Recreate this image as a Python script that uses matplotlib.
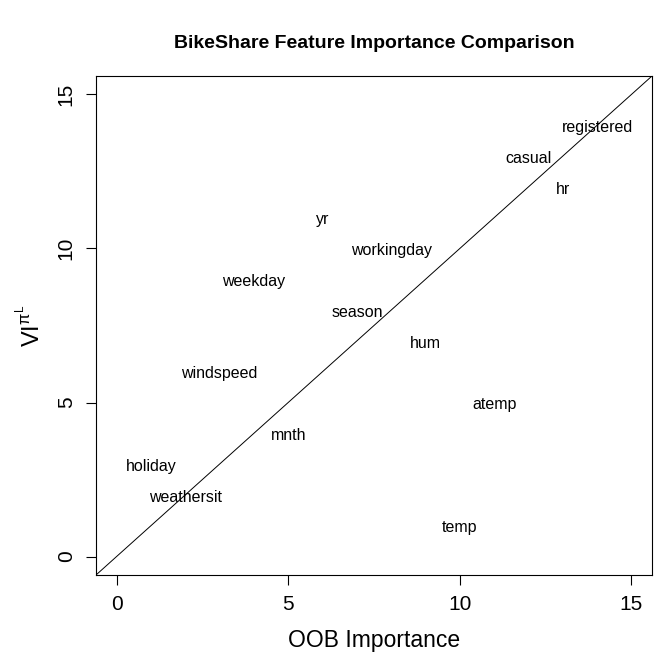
import matplotlib
matplotlib.use("Agg")
import matplotlib.pyplot as plt

plt.rcParams['font.family'] = ['Liberation Sans', 'DejaVu Sans']
plt.rcParams['mathtext.fontset'] = 'custom'
plt.rcParams['mathtext.rm'] = 'Liberation Sans'
plt.rcParams['mathtext.it'] = 'Liberation Sans:italic'

# feature names with their OOB importance (x) and VI^{pi^L} (y)
features = ['registered', 'casual', 'hr', 'yr', 'workingday', 'weekday', 'season',
            'hum', 'windspeed', 'atemp', 'mnth', 'holiday', 'weathersit', 'temp']
oob_importance = [14, 12, 13, 6, 8, 4, 7, 9, 3, 11, 5, 1, 2, 10]
vi_pil = [14, 13, 12, 11, 10, 9, 8, 7, 6, 5, 4, 3, 2, 1]

ticks = [0, 5, 10, 15]

fig = plt.figure(figsize=(6.72, 6.72), dpi=100)
ax = fig.add_axes([96 / 672, 1 - 575 / 672, (652 - 96) / 672, (575 - 76) / 672])

for name, x, y in zip(features, oob_importance, vi_pil):
    ax.annotate(name, (x, y), xytext=(0, -1.6), textcoords='offset points',
                ha='center', va='center', fontsize=11.5)

# reference line y = x
ax.plot([-1, 16], [-1, 16], color='black', linewidth=0.7)

ax.set_xlim(-0.6, 15.6)
ax.set_ylim(-0.6, 15.6)
ax.set_xticks(ticks)
ax.set_yticks(ticks)
ax.tick_params(direction='out', length=7.5, width=0.8, labelsize=15, pad=7)
for lab in ax.get_yticklabels():
    lab.set_rotation(90)
    lab.set_va('center')
for s in ax.spines.values():
    s.set_linewidth(0.8)

ax.set_xlabel('OOB Importance', fontsize=16.5, labelpad=11)
ax.set_ylabel(r'$\mathrm{VI}^{\mathrm{\pi}^{\mathrm{L}}}$', fontsize=17, labelpad=8)
ax.set_title('BikeShare Feature Importance Comparison', fontsize=14,
             fontweight='bold', pad=20)

fig.savefig('out.png', dpi=100)
